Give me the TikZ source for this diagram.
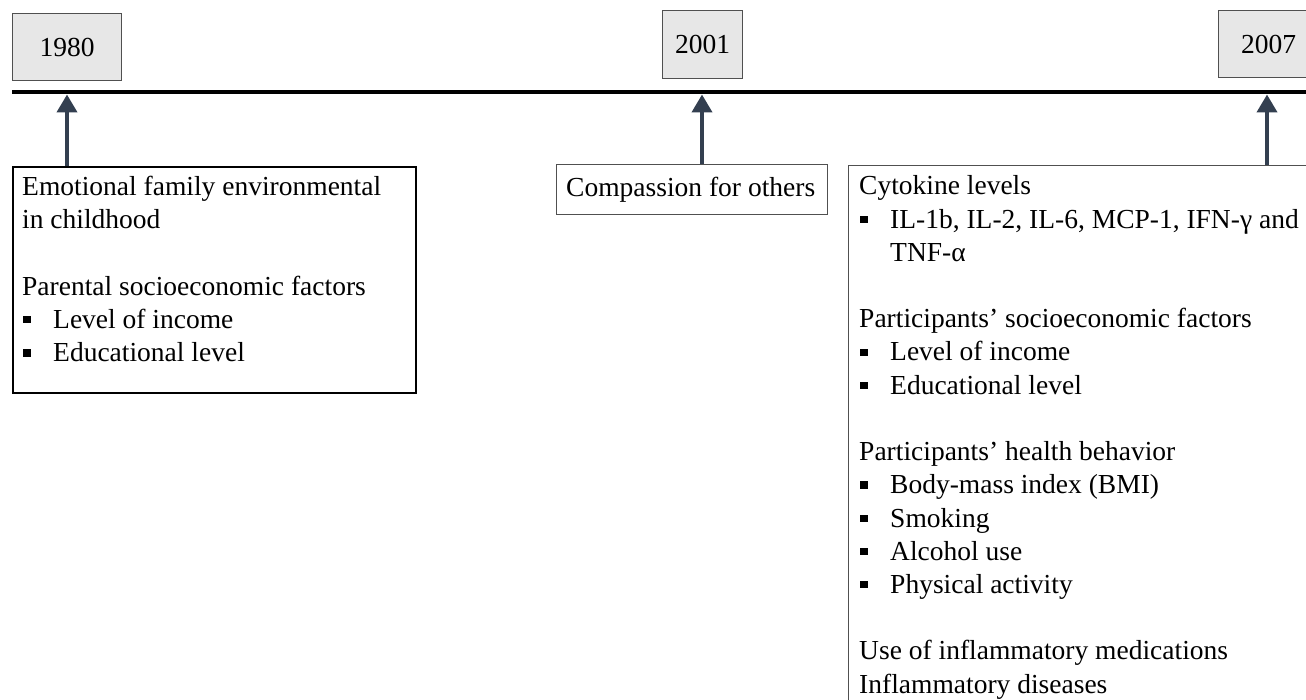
\documentclass[tikz,border=0pt]{standalone}
\usepackage{fontspec}
\setmainfont{Liberation Serif}
\usetikzlibrary{arrows.meta,calc}
\definecolor{arrowc}{HTML}{333F50}
\definecolor{yearfill}{HTML}{E7E7E7}
\definecolor{boxline}{HTML}{505050}
\newcommand\sqbul{\makebox[31pt][l]{\hspace{1pt}\rule[5pt]{7.5pt}{7.5pt}}}
\begin{document}
\begin{tikzpicture}[x=1pt,y=-1pt,
  txtfont/.style={font=\fontsize{27.5}{33}\selectfont},
  yearbox/.style={draw=boxline, line width=1.1pt, fill=yearfill, inner sep=0, anchor=north west, txtfont},
  frame/.style={draw=boxline, line width=1.3pt, inner sep=0, anchor=north west},
  ln/.style={anchor=base west, inner sep=0, txtfont},
  arr/.style={draw=arrowc, line width=4pt, -{Triangle[width=20pt,length=18pt]}},
]
\useasboundingbox (0,0) rectangle (1306,700);
\clip (0,0) rectangle (1306,700);

% year boxes
\node[yearbox, minimum width=109pt, minimum height=67pt] (y1980) at (12,13) {1980};
\node[yearbox, minimum width=80pt, minimum height=68pt] (y2001) at (662,10) {2001};
\node[yearbox, minimum width=100pt, minimum height=67pt, text width=88pt, align=center] (y2007) at (1218,10) {2007};

% timeline
\coordinate (tlL) at (12,92.5);
\coordinate (tlR) at (1306,92.5);
\draw[line width=4pt] (tlL) -- (tlR);

% content boxes
\node[frame, draw=black, line width=2pt, minimum width=403pt, minimum height=226pt] (box1) at (12,166) {};
\node[frame, minimum width=271pt, minimum height=50pt] (box2) at (556,164) {};
\node[frame, minimum width=520pt, minimum height=600pt] (box3) at (848,165) {};

% arrows
\coordinate (a1s) at ($(box1.north west)+(55,0)$);
\coordinate (a1e) at (67,94.5);
\coordinate (a2s) at (702,164);
\coordinate (a2e) at (702,94.5);
\coordinate (a3s) at (1267,165);
\coordinate (a3e) at (1267,94.5);
\draw[arr] (a1s) -- (a1e);
\draw[arr] (a2s) -- (a2e);
\draw[arr] (a3s) -- (a3e);

% box 1 text
\node[ln] (b1l0) at (22,195.5) {Emotional family environmental};
\node[ln] (b1l1) at (22,228.7) {in childhood};
\node[ln] (b1l3) at (22,295.1) {Parental socioeconomic factors};
\node[ln] (b1l4) at (22,328.3) {\sqbul Level of income};
\node[ln] (b1l5) at (22,361.5) {\sqbul Educational level};

% box 2 text
\node[ln] (b2l0) at (566,197) {Compassion for others};

% box 3 text
\node[ln] (b3l0) at (859,195) {Cytokine levels};
\node[ln] (b3l1) at (859,228.2) {\sqbul IL-1b, IL-2, IL-6, MCP-1, IFN-γ and};
\node[ln] (b3l2) at (890,261.4) {TNF-α};
\node[ln] (b3l4) at (859,327.8) {Participants’ socioeconomic factors};
\node[ln] (b3l5) at (859,361) {\sqbul Level of income};
\node[ln] (b3l6) at (859,394.2) {\sqbul Educational level};
\node[ln] (b3l8) at (859,460.6) {Participants’ health behavior};
\node[ln] (b3l9) at (859,493.8) {\sqbul Body-mass index (BMI)};
\node[ln] (b3l10) at (859,527) {\sqbul Smoking};
\node[ln] (b3l11) at (859,560.2) {\sqbul Alcohol use};
\node[ln] (b3l12) at (859,593.4) {\sqbul Physical activity};
\node[ln] (b3l14) at (859,659.8) {Use of inflammatory medications};
\node[ln] (b3l15) at (859,693) {Inflammatory diseases};
\end{tikzpicture}
\end{document}
